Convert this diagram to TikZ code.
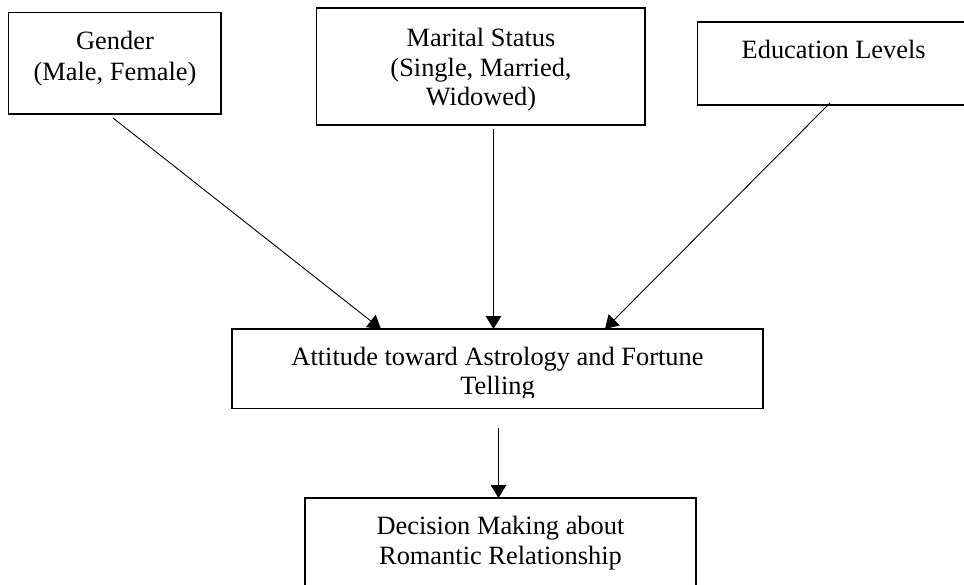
\documentclass[tikz,border=0pt]{standalone}
\usepackage{fontspec}
\setmainfont{Liberation Serif}
\usetikzlibrary{arrows.meta}
\begin{document}
\begin{tikzpicture}[x=1pt,y=-1pt,
  box/.style={draw, line width=1.4pt, rectangle, inner sep=0pt, outer sep=0pt, anchor=north west},
  txt/.style={anchor=base, inner sep=0pt, font=\fontsize{26.4}{30}\selectfont},
  arr/.style={line width=0.9pt, -{Triangle[length=13pt,width=15.5pt]}}]
\useasboundingbox (0,0) rectangle (964,584);
\clip (0,0) rectangle (964,584);
% boxes
\node[box, minimum width=212.4pt, minimum height=101.7pt] (gender) at (8.6,12.3) {};
\node[box, minimum width=328.5pt, minimum height=117pt] (marital) at (316.5,8) {};
\node[box, minimum width=280pt, minimum height=83pt] (educ) at (697.6,22) {};
\node[box, minimum width=531pt, minimum height=79.5pt] (att) at (232,329) {};
\node[box, minimum width=391pt, minimum height=110pt] (dec) at (305,498) {};
% texts
\node[txt] (g1) at (115,49.3) {Gender};
\node[txt] (g2) at (115,80) {(Male, Female)};
\node[txt] (m1) at (481,46.7) {Marital Status};
\node[txt] (m2) at (481,76) {(Single, Married,};
\node[txt] (m3) at (481,105) {Widowed)};
\node[txt] (e1) at (833.7,58.3) {Education Levels};
\node[txt] (a1) at (497.5,365) {Attitude toward Astrology and Fortune};
\begin{scope}
\clip (232,329) rectangle (763,397);
\node[txt] (a2) at (497.5,394) {Telling};
\end{scope}
\node[txt] (d1) at (500.5,534) {Decision Making about};
\node[txt] (d2) at (500.5,564) {Romantic Relationship};
% connector end points
\coordinate (gs) at (113,118);
\coordinate (ge) at (381,329);
\coordinate (ms) at (493.5,129);
\coordinate (me) at (493.5,329);
\coordinate (es) at (830,103);
\coordinate (ee) at (605,329);
\coordinate (as) at (498.5,428);
\coordinate (de) at (498.5,498);
\draw[arr] (gs) -- (ge);
\draw[arr] (ms) -- (me);
\draw[arr] (es) -- (ee);
\draw[arr] (as) -- (de);
\end{tikzpicture}
\end{document}
